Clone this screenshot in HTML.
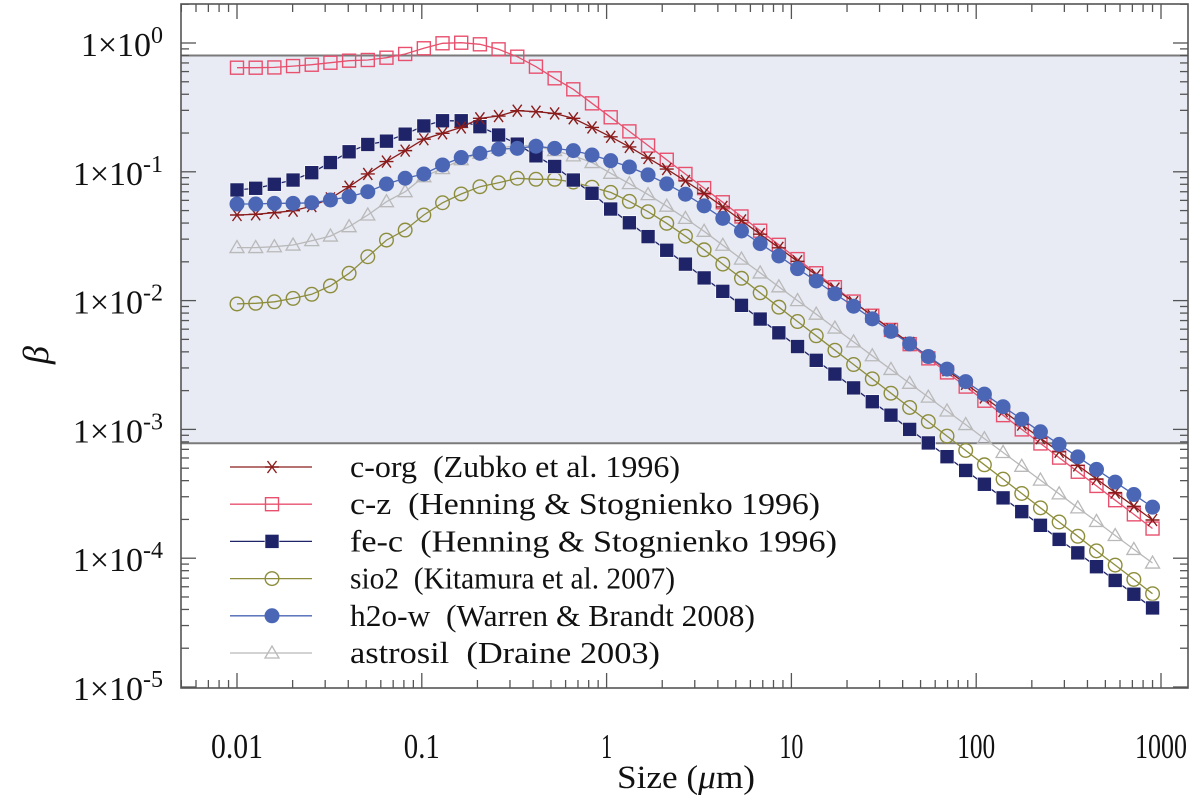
<!DOCTYPE html>
<html><head><meta charset="utf-8">
<style>
html,body{margin:0;padding:0;background:#fff;}
svg{display:block;font-family:"Liberation Serif",serif;}
</style></head>
<body>
<svg id="chart" width="1200" height="804" viewBox="0 0 1200 804" xmlns="http://www.w3.org/2000/svg"></svg>
<script>
// ---- data ----
const sizeMin = 0.01, sizeMax = 900, nPts = 50;
const xTickLabels = ["0.01","0.1","1","10","100","1000"];
const xTickValues = [0.01,0.1,1,10,100,1000];
const yTickExps = [0,-1,-2,-3,-4,-5];
const bandLow = 7.8e-4, bandHigh = 0.8;
const seriesNames = ["c-z","astrosil","sio2","fe-c","c-org","h2o-w"];
const legendLabels = ["c-org  (Zubko et al. 1996)","c-z  (Henning & Stognienko 1996)","fe-c  (Henning & Stognienko 1996)","sio2  (Kitamura et al. 2007)","h2o-w  (Warren & Brandt 2008)","astrosil  (Draine 2003)"];
const betaCZ = [0.643,0.643,0.646,0.662,0.678,0.703,0.729,0.738,0.769,0.822,0.910,0.995,1.005,0.977,0.893,0.783,0.655,0.532,0.437,0.340,0.265,0.206,0.160,0.124,0.0962,0.0747,0.0580,0.0450,0.0349,0.0271,0.0210,0.0163,0.0127,0.00983,0.00763,0.00592,0.00459,0.00356,0.00277,0.00215,0.00167,0.00129,0.00100,0.000778,0.000604,0.000469,0.000364,0.000282,0.000219,0.000170];
const betaCOrg = [0.0462,0.0468,0.0481,0.0499,0.0542,0.0622,0.0766,0.0962,0.120,0.146,0.179,0.199,0.221,0.260,0.271,0.298,0.293,0.284,0.260,0.221,0.187,0.156,0.128,0.105,0.0849,0.0681,0.0534,0.0419,0.0328,0.0257,0.0202,0.0158,0.0124,0.00973,0.00763,0.00598,0.00469,0.00368,0.00288,0.00226,0.00177,0.00139,0.00109,0.000855,0.000670,0.000525,0.000412,0.000323,0.000253,0.000198];
const betaFeC = [0.0723,0.0745,0.0800,0.0863,0.0984,0.118,0.143,0.163,0.173,0.196,0.227,0.249,0.249,0.224,0.193,0.164,0.133,0.110,0.0863,0.0681,0.0514,0.0402,0.0314,0.0246,0.0192,0.0150,0.0118,0.00919,0.00719,0.00562,0.00440,0.00344,0.00269,0.00210,0.00164,0.00129,0.00100,0.000785,0.000614,0.000480,0.000375,0.000294,0.000230,0.000180,0.000140,0.000110,0.0000859,0.0000672,0.0000525,0.0000411];
const betaH2O = [0.0562,0.0562,0.0569,0.0569,0.0575,0.0604,0.0641,0.0700,0.0804,0.0891,0.0962,0.113,0.129,0.139,0.150,0.152,0.158,0.152,0.146,0.135,0.122,0.109,0.0946,0.0805,0.0670,0.0544,0.0435,0.0347,0.0277,0.0222,0.0177,0.0142,0.0113,0.00904,0.00722,0.00577,0.00461,0.00368,0.00294,0.00235,0.00188,0.00150,0.00120,0.000958,0.000765,0.000612,0.000489,0.000390,0.000312,0.000249];
const betaAstro = [0.0258,0.0258,0.0262,0.0270,0.0292,0.0317,0.0375,0.0462,0.0586,0.0701,0.0916,0.106,0.124,0.139,0.152,0.161,0.158,0.146,0.133,0.118,0.0973,0.0809,0.0665,0.0541,0.0435,0.0345,0.0269,0.0210,0.0164,0.0128,0.0100,0.00784,0.00612,0.00478,0.00373,0.00292,0.00228,0.00178,0.00139,0.00109,0.000848,0.000662,0.000517,0.000404,0.000316,0.000246,0.000193,0.000150,0.000117,0.0000917];
const betaSiO2 = [0.00942,0.00953,0.00979,0.0104,0.0112,0.0130,0.0163,0.0219,0.0295,0.0353,0.0462,0.0575,0.0673,0.0766,0.0822,0.0891,0.0875,0.0875,0.0832,0.0759,0.0692,0.0589,0.0490,0.0398,0.0316,0.0248,0.0192,0.0149,0.0115,0.00889,0.00688,0.00533,0.00412,0.00319,0.00247,0.00191,0.00148,0.00115,0.000887,0.000686,0.000531,0.000411,0.000318,0.000246,0.000191,0.000148,0.000114,0.0000884,0.0000684,0.0000530];

// ---- layout ----
const NS = "http://www.w3.org/2000/svg";
const svg = document.getElementById('chart');
const L = 181, R = 1188, T = 4, B = 688;
const x0 = 237, xDec = 184.8;
const y0 = 43, yDec = 128.8;
function xScale(v){ return x0 + (Math.log10(v) + 2) * xDec; }
function yScale(v){ return y0 - Math.log10(v) * yDec; }
function mk(tag, attrs, parent){ const e = document.createElementNS(NS, tag); for (const k in attrs) e.setAttribute(k, attrs[k]); (parent||svg).appendChild(e); return e; }

const sizes = [];
for (let k = 0; k < nPts; k++) sizes.push(Math.pow(10, Math.log10(sizeMin) + k * (Math.log10(sizeMax) - Math.log10(sizeMin)) / (nPts - 1)));

// band
const band = mk('rect', {x:L, y:yScale(bandHigh), width:R-L, height:yScale(bandLow)-yScale(bandHigh), fill:'#e8ebf4'});


const bl1 = mk('line', {x1:L, x2:R, y1:yScale(bandHigh), y2:yScale(bandHigh), stroke:'#7a7a7a', 'stroke-width':2});


const bl2 = mk('line', {x1:L, x2:R, y1:yScale(bandLow), y2:yScale(bandLow), stroke:'#7a7a7a', 'stroke-width':2});



// ticks
const tg = mk('g', {stroke:'#555', 'stroke-width':1.3});


for (let d = -3; d <= 3; d++) {
  for (let m = 1; m <= 9; m++) {
    const v = m * Math.pow(10, d);
    const x = xScale(v);
    if (x < L || x > R) continue;
    const len = m === 1 ? 15 : 8;
    mk('line', {x1:x, x2:x, y1:B, y2:B-len}, tg);
    mk('line', {x1:x, x2:x, y1:T, y2:T+len}, tg);
  }
}
for (let d = -6; d <= 0; d++) {
  for (let m = 1; m <= 9; m++) {
    const v = m * Math.pow(10, d);
    const y = yScale(v);
    if (y < T || y > B) continue;
    const len = m === 1 ? 15 : 8;
    mk('line', {x1:L, x2:L+len, y1:y, y2:y}, tg);
    mk('line', {x1:R, x2:R-len, y1:y, y2:y}, tg);
  }
}

// frame
const frame = mk('rect', {x:L, y:T, width:R-L, height:B-T, fill:'none', stroke:'#555', 'stroke-width':1.6});



// x tick labels
const xLabW = [52, 36, 11, 24, 38, 52];
xTickValues.forEach((v, i) => {
  const t = mk('text', {x:xScale(v), y:758, 'text-anchor':'middle', 'font-size':35, fill:'#111', textLength:xLabW[i], lengthAdjust:'spacingAndGlyphs'});
  t.textContent = xTickLabels[i];
  
  
});
// y tick labels
yTickExps.forEach(e => {
  const t = mk('text', {x:163, y:yScale(Math.pow(10, e)) + 13, 'text-anchor':'end', 'font-size':34, fill:'#111'});
  
  
  const a = mk('tspan', {}, t); a.textContent = '1\u00d710';
  const s = mk('tspan', {dy:-13, 'font-size':24}, t); s.textContent = String(e);
});
// axis titles
const xt = mk('text', {x:686, y:788, 'text-anchor':'middle', 'font-size':33, fill:'#111', textLength:138, lengthAdjust:'spacingAndGlyphs'});


xt.innerHTML = 'Size (<tspan font-style="italic">\u03bc</tspan>m)';
const yt = mk('text', {x:0, y:0, 'text-anchor':'middle', 'font-size':36, 'font-style':'italic', fill:'#111', transform:'translate(48,355) rotate(-90)'});


yt.textContent = '\u03b2';

// series styles
const styles = {
  "c-org": {c:'#8b1c1c', m:'star', data:betaCOrg},
  "c-z": {c:'#e8506e', m:'osq', data:betaCZ},
  "fe-c": {c:'#1f2468', m:'fsq', data:betaFeC},
  "sio2": {c:'#8d8d3c', m:'ocirc', data:betaSiO2},
  "h2o-w": {c:'#4a66b5', m:'fcirc', data:betaH2O},
  "astrosil": {c:'#b9b9b9', m:'tri', data:betaAstro}
};
function marker(type, x, y, c, g) {
  let e;
  if (type === 'osq') e = mk('rect', {x:x-6.5, y:y-6.5, width:13, height:13, fill:'none', stroke:c, 'stroke-width':1.4}, g);
  else if (type === 'fsq') e = mk('rect', {x:x-7, y:y-7, width:14, height:14, fill:c, stroke:'#fff', 'stroke-width':0.6}, g);
  else if (type === 'ocirc') e = mk('circle', {cx:x, cy:y, r:6.8, fill:'none', stroke:c, 'stroke-width':1.4}, g);
  else if (type === 'fcirc') e = mk('circle', {cx:x, cy:y, r:7.5, fill:c}, g);
  else if (type === 'tri') e = mk('path', {d:`M${x-7},${y+5}L${x+7},${y+5}L${x},${y-7}Z`, fill:'none', stroke:c, 'stroke-width':1.3}, g);
  else e = mk('path', {d:`M${x-7},${y}L${x+7},${y}M${x-4.5},${y-6}L${x+4.5},${y+6}M${x-4.5},${y+6}L${x+4.5},${y-6}`, fill:'none', stroke:c, 'stroke-width':1.4}, g);
  return e;
}
seriesNames.forEach(name => {
  const st = styles[name];
  const g = mk('g', {});
  
  
  const pts = st.data.map((v, i) => xScale(sizes[i]).toFixed(1) + ',' + yScale(v).toFixed(1)).join(' ');
  const pl = mk('polyline', {points:pts, fill:'none', stroke:st.c, 'stroke-width':1.3}, g);
  
  
  st.data.forEach((v, i) => {
    const m = marker(st.m, xScale(sizes[i]), yScale(v), st.c, g);
    
    
  });
});

// legend
const legendOrder = ["c-org","c-z","fe-c","sio2","h2o-w","astrosil"];
const lg = mk('g', {});


legendOrder.forEach((name, i) => {
  const st = styles[name];
  const y = 467 + i * 37.2;
  const eg = mk('g', {}, lg);
  
  
  mk('line', {x1:230, x2:312, y1:y, y2:y, stroke:st.c, 'stroke-width':1.3}, eg);
  marker(st.m, 272, y, st.c, eg);
  const t = mk('text', {x:350, y:y + 10, 'font-size':31, fill:'#111', textLength:[330,470,487,325,405,310][i], lengthAdjust:'spacingAndGlyphs', 'xml:space':'preserve'}, eg);
  t.setAttribute('style', 'white-space:pre');
  t.textContent = legendLabels[i];
});
</script>
</body></html>
